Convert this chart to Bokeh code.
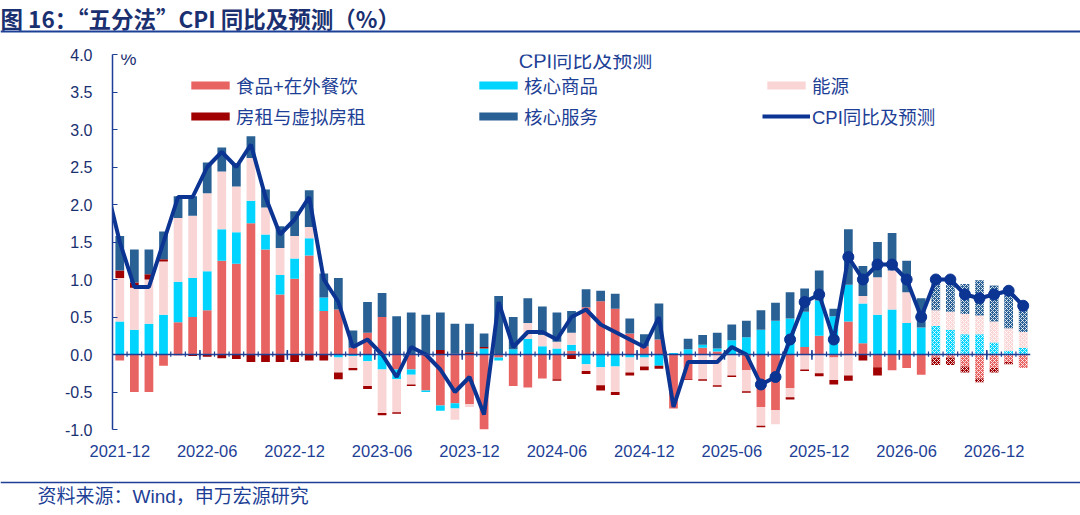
import numpy as np
import pandas as pd
from bokeh.plotting import figure
from bokeh.layouts import column
from bokeh.models import (ColumnDataSource, FixedTicker, LinearAxis, Range1d, Label,
                          Legend, LegendItem, Span, PrintfTickFormatter)
from bokeh.embed import file_html
from bokeh.resources import INLINE

# months of the bars (2021-12 .. 2027-02)
months = [str(m) for m in pd.period_range("2021-12", "2027-02", freq="M")]
tick_labels = ["2021-12", "2022-06", "2022-12", "2023-06", "2023-12", "2024-06",
               "2024-12", "2025-06", "2025-12", "2026-06", "2026-12"]
marker_from = "2025-08"    # line drawn with dots from here
forecast_from = "2026-08"  # hatched bars from here

# contributions, pct points
food = [-0.08, -0.50, -0.50, -0.15, 0.43, 0.50, 0.59, 1.25, 1.21, 1.75,
        1.40, 0.80, 1.01, 1.32, 0.58, 0.60, 0.09, 0.29, 0.50, -0.20,
        -0.20, -0.48, -0.68, -0.65, -0.66, -1.08, -0.04, -0.42, -0.44, -0.32,
        -0.33, 0.05, 0.63, 0.71, 0.61, 0.28, 0.11, 0.20, -0.72, -0.33,
        0.09, 0.04, 0.00, -0.21, -0.70, -0.74, -0.45, 0.10, 0.25, -0.04,
        0.44, 0.15, -0.17, -0.21, -0.18, -0.27, -0.04, -0.04, -0.16, -0.32,
        -0.18, -0.10, -0.18]
core_goods = [0.44, 0.33, 0.41, 0.53, 0.54, 0.52, 0.52, 0.42, 0.42, 0.30,
              0.20, 0.26, 0.27, 0.23, 0.18, -0.04, -0.02, -0.09, -0.20, -0.13,
              -0.07, -0.02, -0.07, -0.07, 0.00, 0.08, -0.04, 0.07, 0.21, 0.11,
              0.08, 0.08, -0.13, -0.17, -0.16, -0.04, -0.04, -0.15, 0.02, 0.07,
              0.04, 0.04, 0.19, 0.23, 0.33, 0.45, 0.48, 0.47, 0.47, 0.51,
              0.49, 0.53, 0.53, 0.60, 0.42, 0.36, 0.38, 0.33, 0.27, 0.27,
              0.16, 0.05, 0.09]
energy = [0.58, 0.56, 0.59, 0.71, 0.85, 0.83, 1.04, 0.77, 0.61, 0.57,
          0.36, 0.36, 0.30, 0.15, 0.00, -0.20, -0.16, -0.33, -0.58, -0.44,
          -0.13, 0.00, 0.00, -0.15, -0.04, 0.00, 0.00, 0.00, 0.21, 0.15,
          0.09, 0.16, -0.09, -0.24, -0.34, -0.20, -0.12, 0.00, 0.00, 0.00,
          -0.33, -0.41, -0.28, -0.28, -0.25, -0.19, -0.12, -0.20, -0.25, -0.30,
          -0.28, 0.10, 0.50, 0.52, 0.41, 0.00, 0.21, 0.24, 0.27, 0.25,
          0.28, 0.30, 0.21]
rent = [0.10, 0.07, 0.07, 0.03, -0.01, -0.02, -0.03, -0.05, -0.06, -0.10,
        -0.10, -0.10, -0.10, -0.08, -0.08, -0.09, -0.03, -0.04, -0.03, -0.02,
        -0.02, 0.00, 0.06, 0.01, 0.03, 0.02, 0.00, 0.00, 0.00, 0.00,
        -0.02, -0.06, -0.04, -0.07, -0.04, -0.04, -0.05, -0.04, 0.00, -0.01,
        -0.02, -0.02, -0.02, -0.02, -0.02, 0.00, -0.03, -0.02, -0.04, -0.06,
        -0.07, -0.08, -0.11, 0.00, 0.00, 0.00, -0.10, -0.10, -0.08, -0.05,
        -0.06, -0.03, 0.00]
core_services = [0.46, 0.44, 0.33, 0.37, 0.29, 0.26, 0.41, 0.32, 0.31, 0.29,
                 0.24, 0.29, 0.33, 0.49, 0.32, 0.42, 0.23, 0.41, 0.32, 0.51,
                 0.56, 0.53, 0.50, 0.40, 0.38, 0.18, 0.78, 0.43, 0.33, 0.38,
                 0.39, 0.29, 0.24, 0.14, 0.20, 0.20, 0.16, 0.48, 0.00, 0.14,
                 0.13, 0.21, 0.21, 0.22, 0.26, 0.24, 0.35, 0.31, 0.40, 0.10,
                 0.74, 0.40, 0.47, 0.50, 0.42, 0.39, 0.36, 0.42, 0.40, 0.47,
                 0.48, 0.44, 0.36]
# CPI yoy, starts one month earlier (2021-11)
cpi = [2.3,
       1.5, 0.9, 0.9, 1.5, 2.1, 2.1, 2.5, 2.7, 2.5, 2.8,
       2.1, 1.6, 1.8, 2.1, 1.0, 0.7, 0.1, 0.2, 0.0, -0.3,
       0.1, 0.0, -0.2, -0.5, -0.3, -0.8, 0.7, 0.1, 0.3, 0.3,
       0.2, 0.5, 0.6, 0.4, 0.3, 0.2, 0.1, 0.5, -0.7, -0.1,
       -0.1, -0.1, 0.1, 0.0, -0.4, -0.3, 0.2, 0.7, 0.8, 0.2,
       1.3, 1.0, 1.2, 1.2, 1.0, 0.5, 1.0, 1.0, 0.8, 0.75,
       0.8, 0.85, 0.65]

NAVY = "#1E3F96"
DARK = "#1A3070"
LINE = "#0B3493"
CN = "Liberation Sans, Noto Sans CJK SC"
CJK = "Noto Sans CJK SC"
W = 1080


def strip(h):
    # a bare figure whose data units are pixels, for the header and footer
    f = figure(width=W, height=h, x_range=Range1d(0, W), y_range=Range1d(0, h),
               output_backend="svg", toolbar_location=None, x_axis_type=None,
               y_axis_type=None, min_border=0, title=None, frame_align=False)
    f.outline_line_color = None
    return f


# header
head = strip(34)
head.add_layout(Label(x=0, y=17, text="图 16：“五分法”CPI 同比及预测（%）", text_font=CJK,
                      text_font_size="22.5px", text_font_style="bold", text_color=DARK,
                      text_baseline="middle"))
head.add_layout(Span(location=3, dimension="width", line_color=NAVY, line_width=2))

# main chart
n = len(months)
x = np.arange(n)
fc = months.index(forecast_from)
mk = months.index(marker_from)

p = figure(width=W, height=446, x_range=Range1d(-0.5, n - 0.5), y_range=Range1d(-1.0, 4.0),
           output_backend="svg", toolbar_location=None, x_axis_type=None, y_axis_type=None,
           min_border_left=112, min_border_right=50, min_border_top=20, min_border_bottom=51,
           frame_align=False)
p.outline_line_color = None

# stacked bars, positives up and negatives down
series = [("食品+在外餐饮", food, "#E86462"),
          ("核心商品", core_goods, "#00D4FF"),
          ("能源", energy, "#F9D5D5"),
          ("房租与虚拟房租", rent, "#A00000"),
          ("核心服务", core_services, "#2A6195")]
pos = np.zeros(n)
neg = np.zeros(n)
bar_items = {}
for name, vals, color in series:
    v = np.array(vals)
    bottom = np.where(v >= 0, pos, neg + v)
    top = np.where(v >= 0, pos + v, neg)
    pos = pos + np.clip(v, 0, None)
    neg = neg + np.clip(v, None, 0)
    hist = ColumnDataSource(dict(x=x[:fc], top=top[:fc], bottom=bottom[:fc]))
    fut = ColumnDataSource(dict(x=x[fc:], top=top[fc:], bottom=bottom[fc:]))
    r = p.vbar(x="x", top="top", bottom="bottom", width=0.6, source=hist,
               fill_color=color, line_color=None)
    p.vbar(x="x", top="top", bottom="bottom", width=0.6, source=fut,
           fill_color=color, line_color=None, hatch_pattern="x",
           hatch_color="white", hatch_scale=4, hatch_weight=1, hatch_alpha=0.8)
    bar_items[name] = r

# category axis through zero: ticks sit between the bars
tick_pos = [months.index(t) for t in tick_labels]
p.add_layout(Span(location=0, dimension="width", line_color=NAVY, line_width=1.5))
minor = [i + 0.5 for i in range(n - 1)]
major = [i - 0.5 for i in tick_pos[1:]]
p.segment(x0=minor, y0=-0.03, x1=minor, y1=0.04, line_color=NAVY, line_width=1.2)
p.segment(x0=major, y0=-0.07, x1=major, y1=0.06, line_color=NAVY, line_width=1.5)

# CPI line (first point from 2021-11 is clipped by the frame)
xl = np.arange(-1, n)
cpi_line = p.line(xl, cpi, line_color=LINE, line_width=4)
p.scatter(xl[mk + 1:], cpi[mk + 1:], size=11, marker="circle",
          fill_color=LINE, line_color=LINE)

# y axis
yaxis = LinearAxis(ticker=FixedTicker(ticks=[-1.0, -0.5, 0.0, 0.5, 1.0, 1.5, 2.0, 2.5, 3.0, 3.5, 4.0]),
                   formatter=PrintfTickFormatter(format="%.1f"),
                   axis_line_color=NAVY, axis_line_width=1.5,
                   major_tick_line_color=NAVY, major_tick_in=5, major_tick_out=0,
                   minor_tick_line_color=None, major_label_standoff=20,
                   major_label_text_font=CN, major_label_text_font_size="16px",
                   major_label_text_color=DARK)
p.add_layout(yaxis, "left")

# month labels along the bottom
xlab = LinearAxis(ticker=FixedTicker(ticks=tick_pos),
                  major_label_overrides={i: t for i, t in zip(tick_pos, tick_labels)},
                  axis_line_color=None, major_tick_line_color=None, minor_tick_line_color=None,
                  major_label_standoff=9, major_label_text_font=CN,
                  major_label_text_font_size="16.5px", major_label_text_color=NAVY)
p.add_layout(xlab, "below")

# legend, 3 columns, filled column by column
order = ["食品+在外餐饮", "房租与虚拟房租", "核心商品", "核心服务", "能源"]
items = [LegendItem(label=k, renderers=[bar_items[k]]) for k in order]
items.append(LegendItem(label="CPI同比及预测", renderers=[cpi_line]))
legend = Legend(items=items, ncols=3, location=(74, 300), orientation="vertical",
                border_line_color=None, background_fill_alpha=0, padding=0, margin=0,
                spacing=5, glyph_width=48, glyph_height=10, label_height=20,
                label_width=233, label_standoff=2, label_text_font=CN,
                label_text_font_size="18.5px", label_text_color=NAVY)
p.add_layout(legend)

p.add_layout(Label(x=473, y=369, x_units="screen", y_units="screen",
                   text="CPI同比及预测", text_font=CN, text_font_size="20px",
                   text_color=NAVY, text_align="center", text_baseline="middle"))
p.add_layout(Label(x=8, y=371, x_units="screen", y_units="screen",
                   text="%", text_font=CN, text_font_size="18px",
                   text_color=DARK, text_baseline="middle"))

# footer
foot = strip(35)
foot.add_layout(Span(location=33, dimension="width", line_color=NAVY, line_width=1.5))
foot.add_layout(Label(x=37, y=19, text="资料来源：Wind，申万宏源研究", text_font=CN,
                      text_font_size="19px", text_color=NAVY, text_baseline="middle"))

page = column(head, p, foot, spacing=0)
open("out.html", "w").write(file_html(page, INLINE))
